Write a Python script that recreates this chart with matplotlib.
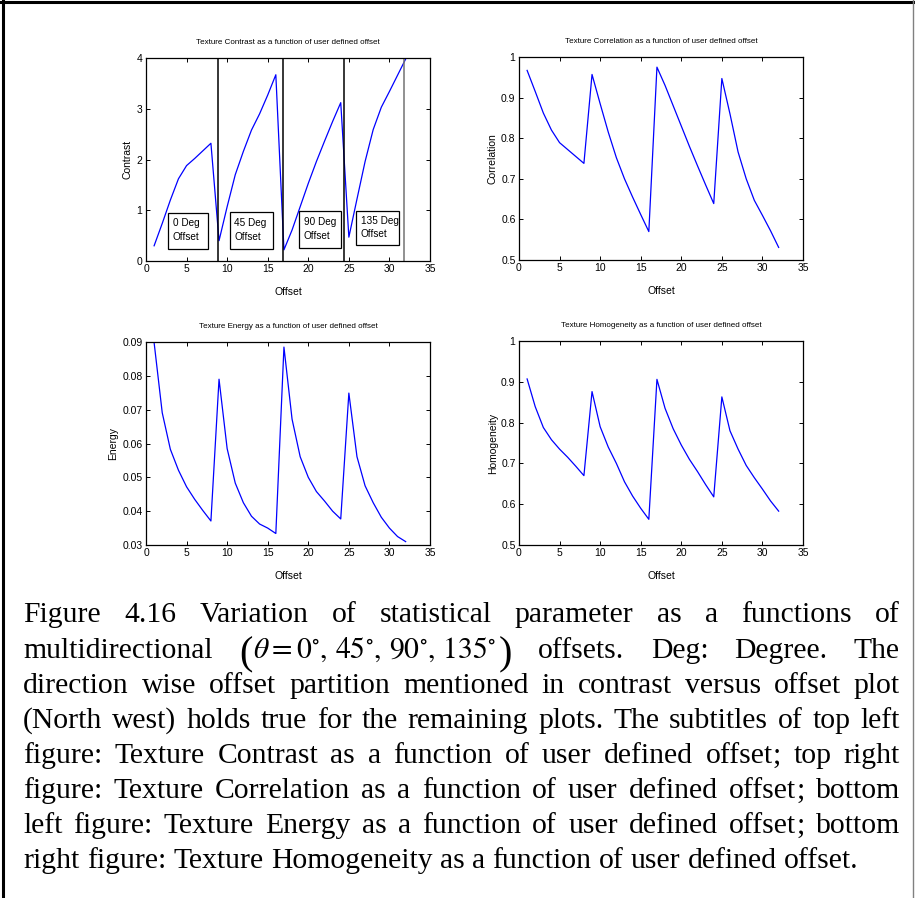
import matplotlib
matplotlib.use("Agg")
import matplotlib.pyplot as plt
from matplotlib import font_manager
from matplotlib.patches import Rectangle
from matplotlib.lines import Line2D

# ---- data -------------------------------------------------------------
offset = list(range(1, 33))

contrast = [0.30, 0.74, 1.20, 1.62, 1.88, 2.02, 2.17, 2.32,
            0.40, 1.07, 1.70, 2.16, 2.58, 2.90, 3.27, 3.67,
            0.22, 0.61, 1.07, 1.53, 1.96, 2.36, 2.75, 3.12,
            0.47, 1.22, 1.96, 2.59, 3.03, 3.34, 3.66, 3.98]

correlation = [0.967, 0.915, 0.862, 0.820, 0.789, 0.772, 0.755, 0.738,
               0.957, 0.885, 0.815, 0.752, 0.700, 0.655, 0.612, 0.570,
               0.975, 0.930, 0.880, 0.830, 0.780, 0.732, 0.685, 0.639,
               0.947, 0.860, 0.766, 0.700, 0.647, 0.610, 0.572, 0.531]

energy = [0.0898, 0.0691, 0.0583, 0.0521, 0.0472, 0.0435, 0.0402, 0.0371,
          0.0790, 0.0585, 0.0483, 0.0425, 0.0385, 0.0362, 0.0350, 0.0334,
          0.0885, 0.0672, 0.0561, 0.0500, 0.0458, 0.0430, 0.0400, 0.0377,
          0.0749, 0.0561, 0.0475, 0.0425, 0.0382, 0.0350, 0.0325, 0.0310]

homogeneity = [0.907, 0.839, 0.788, 0.758, 0.735, 0.715, 0.693, 0.670,
               0.876, 0.790, 0.740, 0.700, 0.655, 0.620, 0.590, 0.563,
               0.906, 0.835, 0.785, 0.745, 0.710, 0.680, 0.648, 0.618,
               0.863, 0.780, 0.735, 0.695, 0.665, 0.637, 0.608, 0.583]

xticks = [0, 5, 10, 15, 20, 25, 30, 35]
xticklabels = ["0", "5", "10", "15", "20", "25", "30", "35"]

contrast_ticks = [0, 1, 2, 3, 4]
contrast_ticklabels = ["0", "1", "2", "3", "4"]
unit_ticks = [0.5, 0.6, 0.7, 0.8, 0.9, 1.0]
unit_ticklabels = ["0.5", "0.6", "0.7", "0.8", "0.9", "1"]
energy_ticks = [0.03, 0.04, 0.05, 0.06, 0.07, 0.08, 0.09]
energy_ticklabels = ["0.03", "0.04", "0.05", "0.06", "0.07", "0.08", "0.09"]

# direction partitions in the contrast plot
partition_x = [8.83, 16.92, 24.45, 31.76]
direction_labels = ["0 Deg\nOffset", "45 Deg\nOffset", "90 Deg\nOffset", "135 Deg\nOffset"]

caption_lines = [
    "Figure 4.16 Variation of statistical parameter as a functions of",
    None,  # line with the angle expression, built below
    "direction wise offset partition mentioned in contrast versus offset plot",
    "(North west) holds true for the remaining plots.  The subtitles of top left",
    "figure: Texture Contrast as a function of user defined offset; top right",
    "figure: Texture Correlation as a function of user defined offset; bottom",
    "left figure: Texture Energy as a function of user defined offset; bottom",
    "right figure: Texture Homogeneity as a function of user defined offset.",
]
angle_expr = r"$\theta = 0^{\circ},\, 45^{\circ},\, 90^{\circ},\, 135^{\circ}$"

# ---- figure -----------------------------------------------------------
W, H = 915, 898
plt.rcParams["mathtext.fontset"] = "stix"
fig = plt.figure(figsize=(W / 100, H / 100), dpi=100)
fig.patch.set_facecolor("white")

available = {f.name for f in font_manager.fontManager.ttflist}
SANS = "Liberation Sans Narrow" if "Liberation Sans Narrow" in available else "Liberation Sans"
SERIF = "Liberation Serif" if "Liberation Serif" in available else "DejaVu Serif"


def add_axes_px(left, top, right, bottom):
    return fig.add_axes([left / W, 1 - bottom / H, (right - left) / W, (bottom - top) / H])


panels = [
    dict(box=(146, 58, 430, 261), values=contrast, ylim=(0, 4),
         yticks=contrast_ticks, yticklabels=contrast_ticklabels,
         title="Texture Contrast as a function of user defined offset",
         ylabel="Contrast", ylabel_x=-0.049),
    dict(box=(519, 57, 803, 260), values=correlation, ylim=(0.5, 1.0),
         yticks=unit_ticks, yticklabels=unit_ticklabels,
         title="Texture Correlation as a function of user defined offset",
         ylabel="Correlation", ylabel_x=-0.074),
    dict(box=(146, 342, 430, 545), values=energy, ylim=(0.03, 0.09),
         yticks=energy_ticks, yticklabels=energy_ticklabels,
         title="Texture Energy as a function of user defined offset",
         ylabel="Energy", ylabel_x=-0.097),
    dict(box=(519, 341, 803, 545), values=homogeneity, ylim=(0.5, 1.0),
         yticks=unit_ticks, yticklabels=unit_ticklabels,
         title="Texture Homogeneity as a function of user defined offset",
         ylabel="Homogeneity", ylabel_x=-0.074),
]

axes = []
for p in panels:
    ax = add_axes_px(*p["box"])
    ax.plot(offset, p["values"], color="#0000ff", lw=0.9)
    ax.set_xlim(0, 35)
    ax.set_ylim(*p["ylim"])
    ax.set_xticks(xticks)
    ax.set_xticklabels(xticklabels, family=SANS, fontsize=7.5)
    ax.set_yticks(p["yticks"])
    ax.set_yticklabels(p["yticklabels"], family=SANS, fontsize=7.5)
    ax.tick_params(direction="in", length=3, width=0.7, top=True, right=True,
                   pad=2.5, colors="black")
    for s in ax.spines.values():
        s.set_linewidth(0.9)
        s.set_color("black")
    ax.text(0.5, 1.075, p["title"], transform=ax.transAxes, ha="center",
            va="center", family=SANS, fontsize=5.8)
    ax.set_xlabel("Offset", family=SANS, fontsize=7.5)
    ax.xaxis.set_label_coords(0.5, -0.128)
    ax.set_ylabel(p["ylabel"], family=SANS, fontsize=7.5)
    ax.yaxis.set_label_coords(p["ylabel_x"], 0.5)
    axes.append(ax)

# partition lines and direction boxes on the contrast plot
ax0 = axes[0]
line_colors = ["black", "black", "black", "0.45"]
for xv, c in zip(partition_x, line_colors):
    ax0.axvline(xv, color=c, lw=1.1)

box_spans = [(2.75, 7.68, 0.24, 0.95), (10.35, 15.6, 0.24, 0.97),
             (18.9, 24.0, 0.25, 0.99), (25.9, 31.2, 0.31, 0.99)]
for (x0, x1, y0, y1), lab in zip(box_spans, direction_labels):
    ax0.add_patch(Rectangle((x0, y0), x1 - x0, y1 - y0, fill=True,
                            facecolor="white", edgecolor="black", lw=0.9, zorder=3))
    ax0.text(x0 + 0.55, (y0 + y1) / 2 + 0.01, lab, ha="left", va="center",
             family=SANS, fontsize=7.2, linespacing=1.45, zorder=4)

# ---- caption, justified -----------------------------------------------
renderer = fig.canvas.get_renderer()
left_px, right_px = 23, 900
baselines = [622, 657.7, 692.7, 727.7, 762.7, 797.7, 832.7, 867.7]
CAP_SIZE = 21.3
PAREN_SIZE = 29
PAREN_DROP = 7  # px the tall brackets sit below the text baseline


def make_group(parts, y_px):
    """parts: list of (string, fontsize, baseline shift px, pad after px)."""
    items = []
    for s, size, drop, pad in parts:
        t = fig.text(0, 1 - (y_px + drop) / H, s, family=SERIF, fontsize=size,
                     ha="left", va="baseline")
        items.append((t, t.get_window_extent(renderer).width, pad))
    width = sum(w + pad for _, w, pad in items)
    return items, width


def word_parts(word):
    # trailing semicolons are set as their own piece so the word keeps its baseline
    if word.endswith(";"):
        return [(word[:-1], CAP_SIZE, 0, 0), (";", CAP_SIZE, 0, 0)]
    return [(word, CAP_SIZE, 0, 0)]


def place_line(words, y_px, justify=True):
    groups = []
    for w in words:
        parts = w if isinstance(w, list) else word_parts(w)
        groups.append(make_group(parts, y_px))
    total = sum(g[1] for g in groups)
    if justify and len(groups) > 1:
        gap = (right_px - left_px - total) / (len(groups) - 1)
    else:
        space = fig.text(0, 0, "a a", family=SERIF, fontsize=CAP_SIZE)
        aa = fig.text(0, 0, "aa", family=SERIF, fontsize=CAP_SIZE)
        gap = space.get_window_extent(renderer).width - aa.get_window_extent(renderer).width
        space.remove()
        aa.remove()
    x = left_px
    for items, width in groups:
        for t, w, pad in items:
            t.set_x(x / W)
            x += w + pad
        x += gap


angle_group = [("(", PAREN_SIZE, PAREN_DROP, 1), (angle_expr, CAP_SIZE, 0, 2),
               (")", PAREN_SIZE, PAREN_DROP, 0)]

for i, (line, y) in enumerate(zip(caption_lines, baselines)):
    if line is None:
        words = ["multidirectional", angle_group, "offsets.", "Deg:", "Degree.", "The"]
    else:
        words = line.split()
    place_line(words, y, justify=(i < len(caption_lines) - 1))

# ---- frame ------------------------------------------------------------
fig.add_artist(Line2D([0, 1], [1 - 1.5 / H, 1 - 1.5 / H], transform=fig.transFigure,
                      color="black", lw=2.2))
fig.add_artist(Line2D([3 / W, 3 / W], [0, 1], transform=fig.transFigure,
                      color="black", lw=2.2))
fig.add_artist(Line2D([913 / W, 913 / W], [0, 1], transform=fig.transFigure,
                      color="0.5", lw=1.0))

fig.savefig("out.png", dpi=100)
